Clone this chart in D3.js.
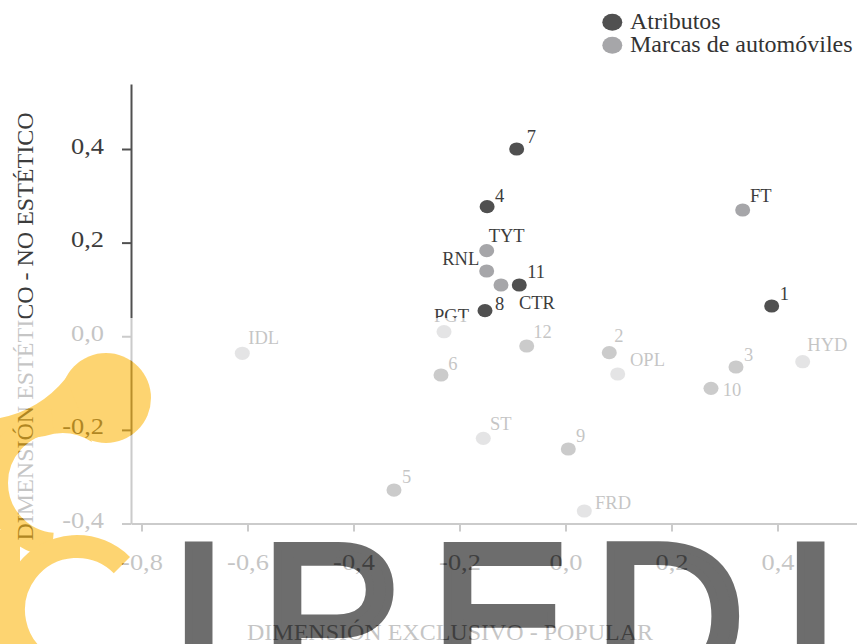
<!DOCTYPE html>
<html><head><meta charset="utf-8">
<script src="https://cdn.jsdelivr.net/npm/d3@7"></script>
<style>html,body{margin:0;padding:0;background:#fff;} svg{display:block;}</style>
</head><body><svg id="chart" width="857" height="644"></svg>
<script>
// ---- data ----
const seriesNames = ["Atributos", "Marcas de automóviles"];
const atributoLabels = ["1","2","3","4","5","6","7","8","9","10","11","12"];
const atributoX = [0.389, 0.0826, 0.3217, -0.1479, -0.3236, -0.2349, -0.0921, -0.1519, 0.0053, 0.2745, -0.0872, -0.0732];
const atributoY = [0.0646, -0.0351, -0.0657, 0.2768, -0.3285, -0.0828, 0.400, 0.0546, -0.2409, -0.1112, 0.1095, -0.0208];
const marcaLabels = ["FT","TYT","RNL","CTR","PGT","OPL","HYD","IDL","ST","FRD"];
const marcaX = [0.3343, -0.1487, -0.1487, -0.1217, -0.2292, 0.0985, 0.4475, -0.6098, -0.1551, 0.0355];
const marcaY = [0.2697, 0.1828, 0.1394, 0.1095, 0.0097, -0.0806, -0.0544, -0.0364, -0.218, -0.3733];
const xTicks = [-0.8, -0.6, -0.4, -0.2, 0.0, 0.2, 0.4];
const yTicks = [-0.4, -0.2, 0.0, 0.2, 0.4];
const xTitle = "DIMENSIÓN EXCLUSIVO - POPULAR";
const yTitle = "DIMENSIÓN ESTÉTICO - NO ESTÉTICO";
const watermark = "IPEDI";

// ---- layout (label offsets in px from point centre) ----
const labelPos = {
  "1":[8,-6], "2":[5,-10.4], "3":[8,-5.6], "4":[8,-5], "5":[8,-6.7], "6":[7.3,-5],
  "7":[10,-6], "8":[10,-0.7], "9":[7.7,-7.3], "10":[11.7,7.4], "11":[8,-7.3], "12":[6.6,-7.7],
  FT:[7.3,-8.3], TYT:[2,-9], RNL:[-7.4,-6,"end"], CTR:[18,24], PGT:[-10,-10],
  OPL:[12.3,-8], HYD:[4.6,-11], IDL:[6,-9.3], ST:[6.7,-8.3], FRD:[10.7,-1.7]
};
const darkCol = "#505050", lightCol = "#a6a6a9", textCol = "#3c3c3c";
const serif = "'Liberation Serif','Times New Roman',serif";

const svg = d3.select("#chart");
const W = 857, H = 644;

const x = d3.scaleLinear().domain([-0.8, 0.4]).range([141.5, 777.5]);
const y = d3.scaleLinear().domain([-0.4, 0.4]).range([523.5, 149]);
const axisX = 131, axisTop = 84;
const fmt = d => d.toFixed(1).replace(".", ",");

// y axis
const yAxisScale = y.copy().domain([-0.4, y.invert(axisTop)]).range([523.5, axisTop]);
const gy = svg.append("g").attr("transform", `translate(${axisX},0)`)
  .call(d3.axisLeft(yAxisScale).tickValues(yTicks).tickSize(9).tickSizeOuter(0).tickFormat(fmt));
// x axis
const xAxisScale = x.copy().domain([x.invert(axisX), x.invert(W)]).range([axisX, W]);
const gx = svg.append("g").attr("transform", `translate(0,${y(-0.4)})`)
  .call(d3.axisBottom(xAxisScale).tickValues(xTicks).tickSize(8).tickSizeOuter(0).tickFormat(fmt));

[gx, gy].forEach(g => {
  g.select(".domain").attr("stroke", darkCol).attr("stroke-width", 2);
  g.selectAll(".tick line").attr("stroke", darkCol).attr("stroke-width", 2);
  g.selectAll(".tick text").attr("font-family", serif).attr("font-size", 24).attr("fill", textCol);
});
gy.selectAll(".tick text").attr("x", -27).attr("dy", null).attr("y", 4)
  .attr("transform", "translate(-27,0) scale(1.1,1) translate(27,0)");
gx.selectAll(".tick text").attr("y", 46.5).attr("dy", null)
  .attr("transform", "scale(1.1,1)");

// axis titles
svg.append("text").attr("x", 450).attr("y", 640).attr("text-anchor", "middle")
  .attr("font-family", serif).attr("font-size", 24).attr("fill", textCol).text(xTitle);
svg.append("text").attr("transform", "translate(33,326.5) rotate(-90)").attr("text-anchor", "middle")
  .attr("font-family", serif).attr("font-size", 24).attr("fill", textCol).text(yTitle);

// points
const atributos = atributoLabels.map((l, i) => ({label: l, x: atributoX[i], y: atributoY[i], c: darkCol}));
const marcas = marcaLabels.map((l, i) => ({label: l, x: marcaX[i], y: marcaY[i], c: lightCol}));
const all = atributos.concat(marcas);
svg.append("g").selectAll("ellipse").data(all).join("ellipse")
  .attr("cx", d => x(d.x)).attr("cy", d => y(d.y)).attr("rx", 7.5).attr("ry", 6.6)
  .attr("fill", d => d.c);
svg.append("g").selectAll("text").data(all).join("text")
  .attr("x", d => x(d.x) + labelPos[d.label][0])
  .attr("y", d => y(d.y) + labelPos[d.label][1])
  .attr("text-anchor", d => labelPos[d.label][2] || "start")
  .attr("font-family", serif).attr("font-size", 18.5).attr("fill", textCol)
  .text(d => d.label);

// legend
const leg = svg.append("g");
seriesNames.forEach((s, i) => {
  leg.append("ellipse").attr("cx", 612.3).attr("cy", 22.3 + i * 23).attr("rx", 10).attr("ry", 8.5)
    .attr("fill", i === 0 ? darkCol : lightCol);
  leg.append("text").attr("x", 630).attr("y", 29.3 + i * 23)
    .attr("font-family", serif).attr("font-size", 24).attr("fill", "#333").text(s);
});

// ---- watermark layer ----
function drawYellow(g, col) {
  g.append("circle").attr("cx", 106).attr("cy", 398).attr("r", 45).attr("fill", col);
  g.append("path").attr("d", "M66,378 Q40,410 0,418 L-10,418 L-10,445 L45,436 Q70,428 92,442 Z").attr("fill", col);
  const a1 = -95 * Math.PI / 180, a2 = 95 * Math.PI / 180, rB = 62, cB = [58, 483];
  g.append("path").attr("d", `M${cB[0] + rB * Math.cos(a1)},${cB[1] + rB * Math.sin(a1)} A${rB},${rB} 0 0 0 ${cB[0] + rB * Math.cos(a2)},${cB[1] + rB * Math.sin(a2)}`)
    .attr("fill", "none").attr("stroke", col).attr("stroke-width", 24);
  const c1 = -45 * Math.PI / 180, c2 = 120 * Math.PI / 180, rC = 63.5, cC = [77, 610];
  g.append("path").attr("d", `M${cC[0] + rC * Math.cos(c1)},${cC[1] + rC * Math.sin(c1)} A${rC},${rC} 0 1 0 ${cC[0] + rC * Math.cos(c2)},${cC[1] + rC * Math.sin(c2)}`)
    .attr("fill", "none").attr("stroke", col).attr("stroke-width", 23);
  g.append("rect").attr("x", -10).attr("y", 530).attr("width", 30).attr("height", 120).attr("fill", col);
}
const letterX = [169.5, 260.5, 430.5, 593.5, 781.5];
function drawLetters(g, col) {
  watermark.split("").forEach((ch, i) => {
    g.append("text").attr("x", letterX[i]).attr("y", 689.5)
      .attr("font-family", "'Liberation Sans',Arial,sans-serif").attr("font-size", 210)
      .attr("fill", col).attr("stroke", col).attr("stroke-width", 8).attr("stroke-linejoin", "miter").text(ch);
  });
}
const defs = svg.append("defs");
const mask = defs.append("mask").attr("id", "fadeMask").attr("maskUnits", "userSpaceOnUse")
  .attr("x", 0).attr("y", 0).attr("width", W).attr("height", H);
mask.append("rect").attr("x", 0).attr("y", 0).attr("width", W).attr("height", H).attr("fill", "#fff");
drawYellow(mask.append("g"), "#000");
drawLetters(mask.append("g"), "#000");
svg.append("rect").attr("x", 0).attr("y", 318).attr("width", W).attr("height", H - 318)
  .attr("fill", "#fff").attr("opacity", 0.7).attr("mask", "url(#fadeMask)");
drawYellow(svg.append("g").attr("opacity", 0.6), "#FDB813");
drawLetters(svg.append("g").attr("opacity", 0.76), "#404040");
</script></body></html>
